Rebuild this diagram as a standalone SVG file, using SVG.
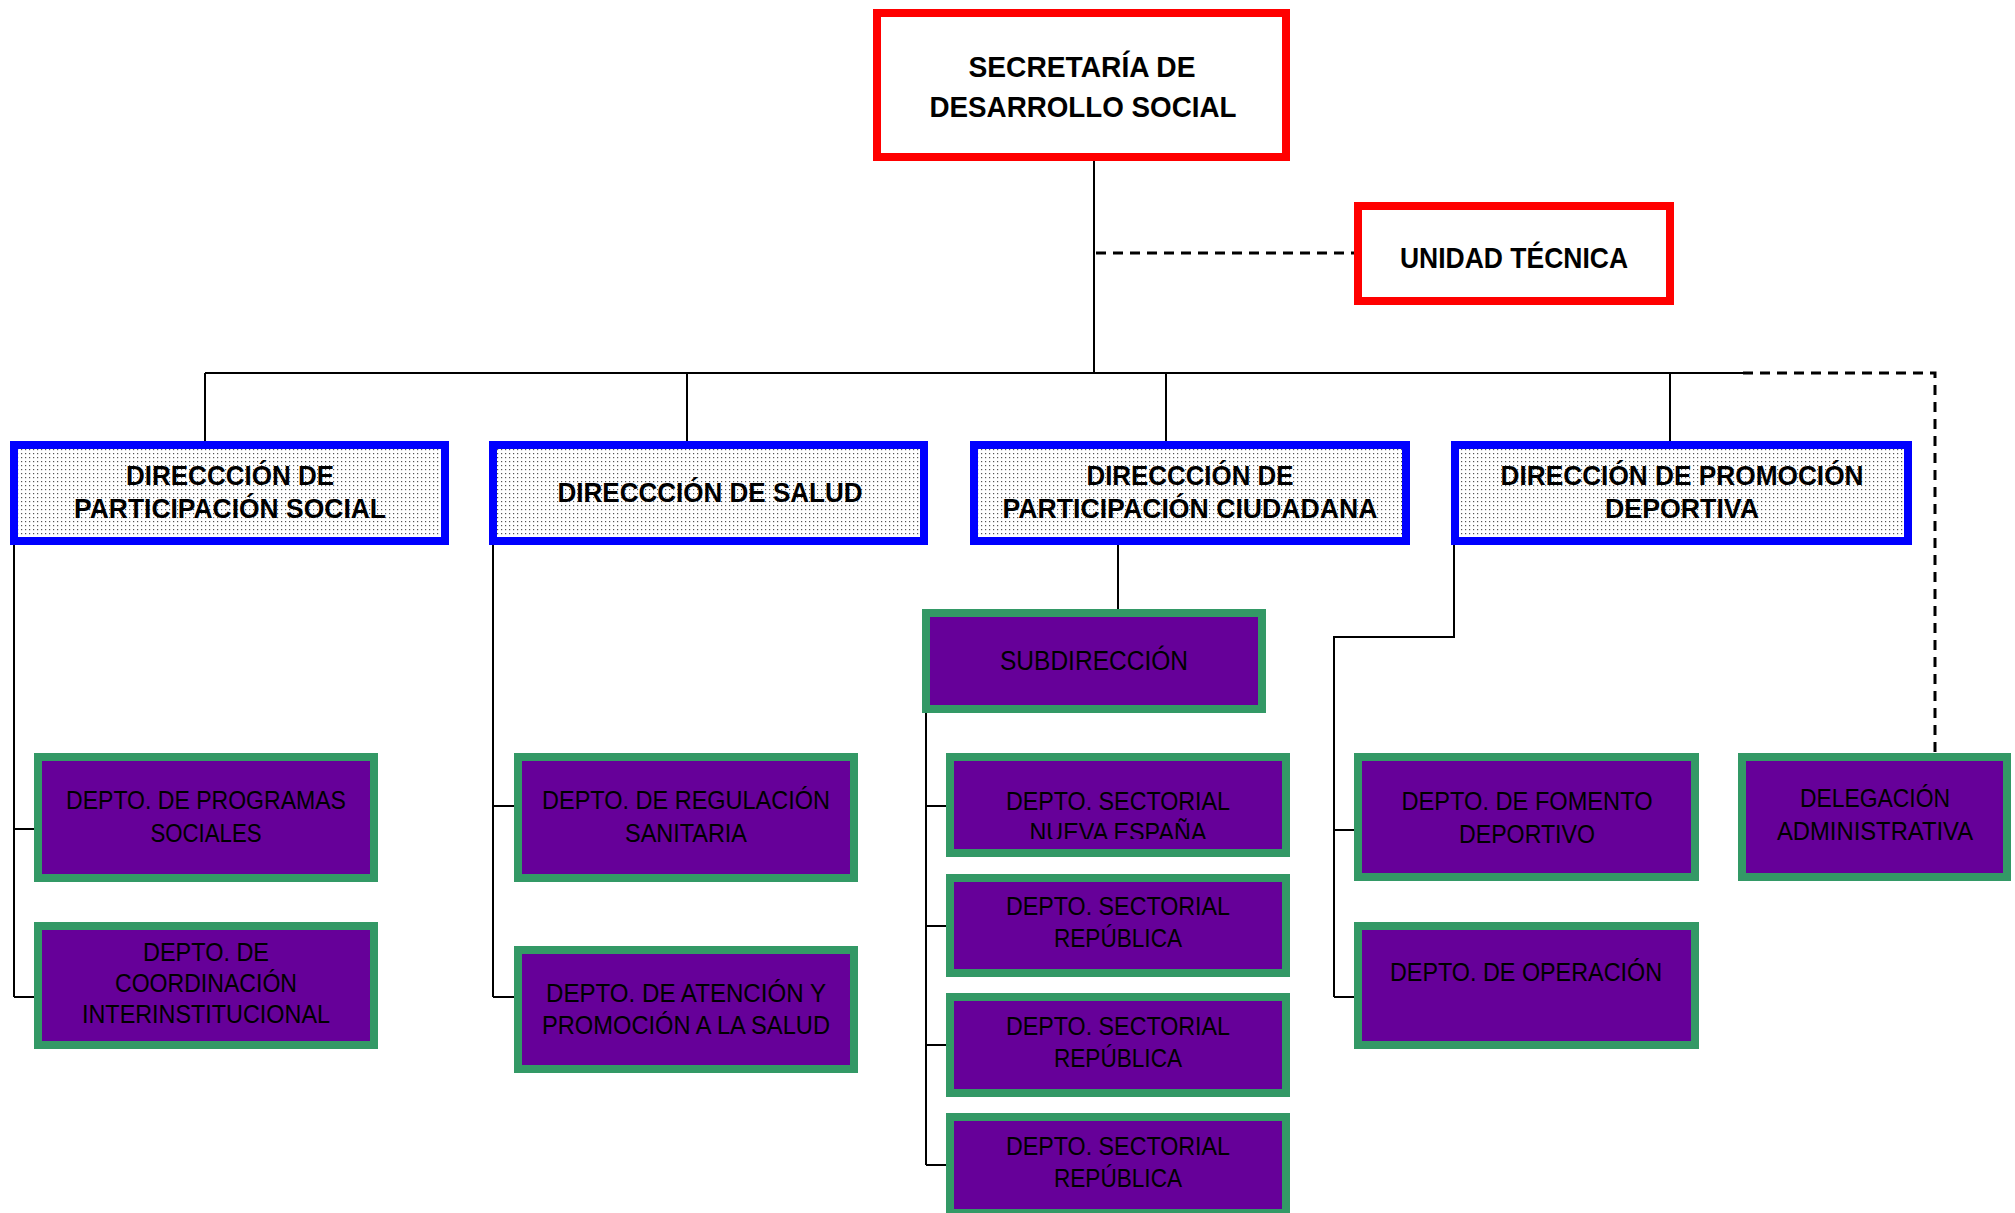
<svg xmlns="http://www.w3.org/2000/svg" width="2015" height="1213" viewBox="0 0 2015 1213">
<defs>
<pattern id="dots" x="0" y="0" width="4" height="4" patternUnits="userSpaceOnUse">
<rect x="0" y="0" width="4" height="4" fill="#ffffff"/>
<rect x="1" y="1" width="1.2" height="1.2" fill="#555555"/>
</pattern>
<clipPath id="clipS1"><rect x="946" y="753" width="344" height="86"/></clipPath>
</defs>
<style>
.red{fill:#ffffff;stroke:#ff0000;stroke-width:8}
.blue{fill:url(#dots);stroke:#0000ff;stroke-width:8}
.purple{fill:#660099;stroke:#339966;stroke-width:8}
.tb{font-family:"Liberation Sans",Arial,sans-serif;font-weight:bold;fill:#000000;text-anchor:middle}
.tr{font-family:"Liberation Sans",Arial,sans-serif;font-weight:normal;fill:#000000;text-anchor:middle;font-size:25px}
.ln{fill:none;stroke:#000000;stroke-width:2}
.dash{fill:none;stroke:#000000;stroke-width:3;stroke-dasharray:10 7}
</style>
<g id="connectors">
<path class="ln" d="M1094 161 V373"/>
<path class="dash" d="M1096 253 H1354"/>
<path class="ln" d="M205 373 H1743"/>
<path class="ln" d="M205 373 V441 M687 373 V441 M1166 373 V441 M1670 373 V441"/>
<path class="dash" d="M1743 373 H1935 V753"/>
<path class="ln" d="M14 545 V997 M14 829 H34 M14 997 H34"/>
<path class="ln" d="M493 545 V997 M493 806 H514 M493 997 H514"/>
<path class="ln" d="M1118 545 V609"/>
<path class="ln" d="M926 713 V1165 M926 806 H946 M926 926 H946 M926 1045 H946 M926 1165 H946"/>
<path class="ln" d="M1454 545 V637 H1334 V997 M1334 830 H1354 M1334 997 H1354"/>
</g>
<g id="secretaria">
<rect class="red" x="877" y="13" width="409" height="144"/>
<text class="tb" font-size="30" x="1082" y="77" textLength="227" lengthAdjust="spacingAndGlyphs">SECRETARÍA DE</text>
<text class="tb" font-size="30" x="1083" y="117" textLength="307" lengthAdjust="spacingAndGlyphs">DESARROLLO SOCIAL</text>
</g>
<g id="unidad-tecnica">
<rect class="red" x="1358" y="206" width="312" height="95"/>
<text class="tb" font-size="30" x="1514" y="268" textLength="228" lengthAdjust="spacingAndGlyphs">UNIDAD TÉCNICA</text>
</g>
<g id="dir-participacion-social">
<rect class="blue" x="14" y="445" width="431" height="96"/>
<text class="tb" font-size="28" x="230" y="485" textLength="208" lengthAdjust="spacingAndGlyphs">DIRECCCIÓN DE</text>
<text class="tb" font-size="28" x="230" y="518" textLength="312" lengthAdjust="spacingAndGlyphs">PARTICIPACIÓN SOCIAL</text>
</g>
<g id="dir-salud">
<rect class="blue" x="493" y="445" width="431" height="96"/>
<text class="tb" font-size="28" x="710" y="502" textLength="305" lengthAdjust="spacingAndGlyphs">DIRECCCIÓN DE SALUD</text>
</g>
<g id="dir-participacion-ciudadana">
<rect class="blue" x="974" y="445" width="432" height="96"/>
<text class="tb" font-size="28" x="1190" y="485" textLength="207" lengthAdjust="spacingAndGlyphs">DIRECCCIÓN DE</text>
<text class="tb" font-size="28" x="1190" y="518" textLength="375" lengthAdjust="spacingAndGlyphs">PARTICIPACIÓN CIUDADANA</text>
</g>
<g id="dir-promocion-deportiva">
<rect class="blue" x="1455" y="445" width="453" height="96"/>
<text class="tb" font-size="28" x="1682" y="485" textLength="363" lengthAdjust="spacingAndGlyphs">DIRECCIÓN DE PROMOCIÓN</text>
<text class="tb" font-size="28" x="1682" y="518" textLength="154" lengthAdjust="spacingAndGlyphs">DEPORTIVA</text>
</g>
<g id="subdireccion">
<rect class="purple" x="926" y="613" width="336" height="96"/>
<text class="tr" x="1094" y="670" style="font-size:27px" textLength="188" lengthAdjust="spacingAndGlyphs">SUBDIRECCIÓN</text>
</g>
<g id="depto-programas-sociales">
<rect class="purple" x="38" y="757" width="336" height="121"/>
<text class="tr" x="206" y="809" textLength="280" lengthAdjust="spacingAndGlyphs">DEPTO. DE PROGRAMAS</text>
<text class="tr" x="206" y="842" textLength="111" lengthAdjust="spacingAndGlyphs">SOCIALES</text>
</g>
<g id="depto-coordinacion">
<rect class="purple" x="38" y="926" width="336" height="119"/>
<text class="tr" x="206" y="961" textLength="126" lengthAdjust="spacingAndGlyphs">DEPTO. DE</text>
<text class="tr" x="206" y="992" textLength="182" lengthAdjust="spacingAndGlyphs">COORDINACIÓN</text>
<text class="tr" x="206" y="1023" textLength="248" lengthAdjust="spacingAndGlyphs">INTERINSTITUCIONAL</text>
</g>
<g id="depto-regulacion">
<rect class="purple" x="518" y="757" width="336" height="121"/>
<text class="tr" x="686" y="809" textLength="288" lengthAdjust="spacingAndGlyphs">DEPTO. DE REGULACIÓN</text>
<text class="tr" x="686" y="842" textLength="122" lengthAdjust="spacingAndGlyphs">SANITARIA</text>
</g>
<g id="depto-atencion">
<rect class="purple" x="518" y="950" width="336" height="119"/>
<text class="tr" x="686" y="1002" textLength="280" lengthAdjust="spacingAndGlyphs">DEPTO. DE ATENCIÓN Y</text>
<text class="tr" x="686" y="1034" textLength="288" lengthAdjust="spacingAndGlyphs">PROMOCIÓN A LA SALUD</text>
</g>
<g id="depto-sectorial-nueva-espana">
<rect class="purple" x="950" y="757" width="336" height="96"/>
<text class="tr" x="1118" y="810" textLength="224" lengthAdjust="spacingAndGlyphs">DEPTO. SECTORIAL</text>
<text class="tr" x="1118" y="841" clip-path="url(#clipS1)" textLength="177" lengthAdjust="spacingAndGlyphs">NUEVA ESPAÑA</text>
</g>
<g id="depto-sectorial-republica-1">
<rect class="purple" x="950" y="878" width="336" height="95"/>
<text class="tr" x="1118" y="915" textLength="224" lengthAdjust="spacingAndGlyphs">DEPTO. SECTORIAL</text>
<text class="tr" x="1118" y="947" textLength="128" lengthAdjust="spacingAndGlyphs">REPÚBLICA</text>
</g>
<g id="depto-sectorial-republica-2">
<rect class="purple" x="950" y="997" width="336" height="96"/>
<text class="tr" x="1118" y="1035" textLength="224" lengthAdjust="spacingAndGlyphs">DEPTO. SECTORIAL</text>
<text class="tr" x="1118" y="1067" textLength="128" lengthAdjust="spacingAndGlyphs">REPÚBLICA</text>
</g>
<g id="depto-sectorial-republica-3">
<rect class="purple" x="950" y="1117" width="336" height="96"/>
<text class="tr" x="1118" y="1155" textLength="224" lengthAdjust="spacingAndGlyphs">DEPTO. SECTORIAL</text>
<text class="tr" x="1118" y="1187" textLength="128" lengthAdjust="spacingAndGlyphs">REPÚBLICA</text>
</g>
<g id="depto-fomento">
<rect class="purple" x="1358" y="757" width="337" height="120"/>
<text class="tr" x="1527" y="810" textLength="251" lengthAdjust="spacingAndGlyphs">DEPTO. DE FOMENTO</text>
<text class="tr" x="1527" y="843" textLength="136" lengthAdjust="spacingAndGlyphs">DEPORTIVO</text>
</g>
<g id="depto-operacion">
<rect class="purple" x="1358" y="926" width="337" height="119"/>
<text class="tr" x="1526" y="981" textLength="272" lengthAdjust="spacingAndGlyphs">DEPTO. DE OPERACIÓN</text>
</g>
<g id="delegacion-administrativa">
<rect class="purple" x="1742" y="757" width="265" height="120"/>
<text class="tr" x="1875" y="807" textLength="150" lengthAdjust="spacingAndGlyphs">DELEGACIÓN</text>
<text class="tr" x="1875" y="840" textLength="196" lengthAdjust="spacingAndGlyphs">ADMINISTRATIVA</text>
</g>
</svg>
